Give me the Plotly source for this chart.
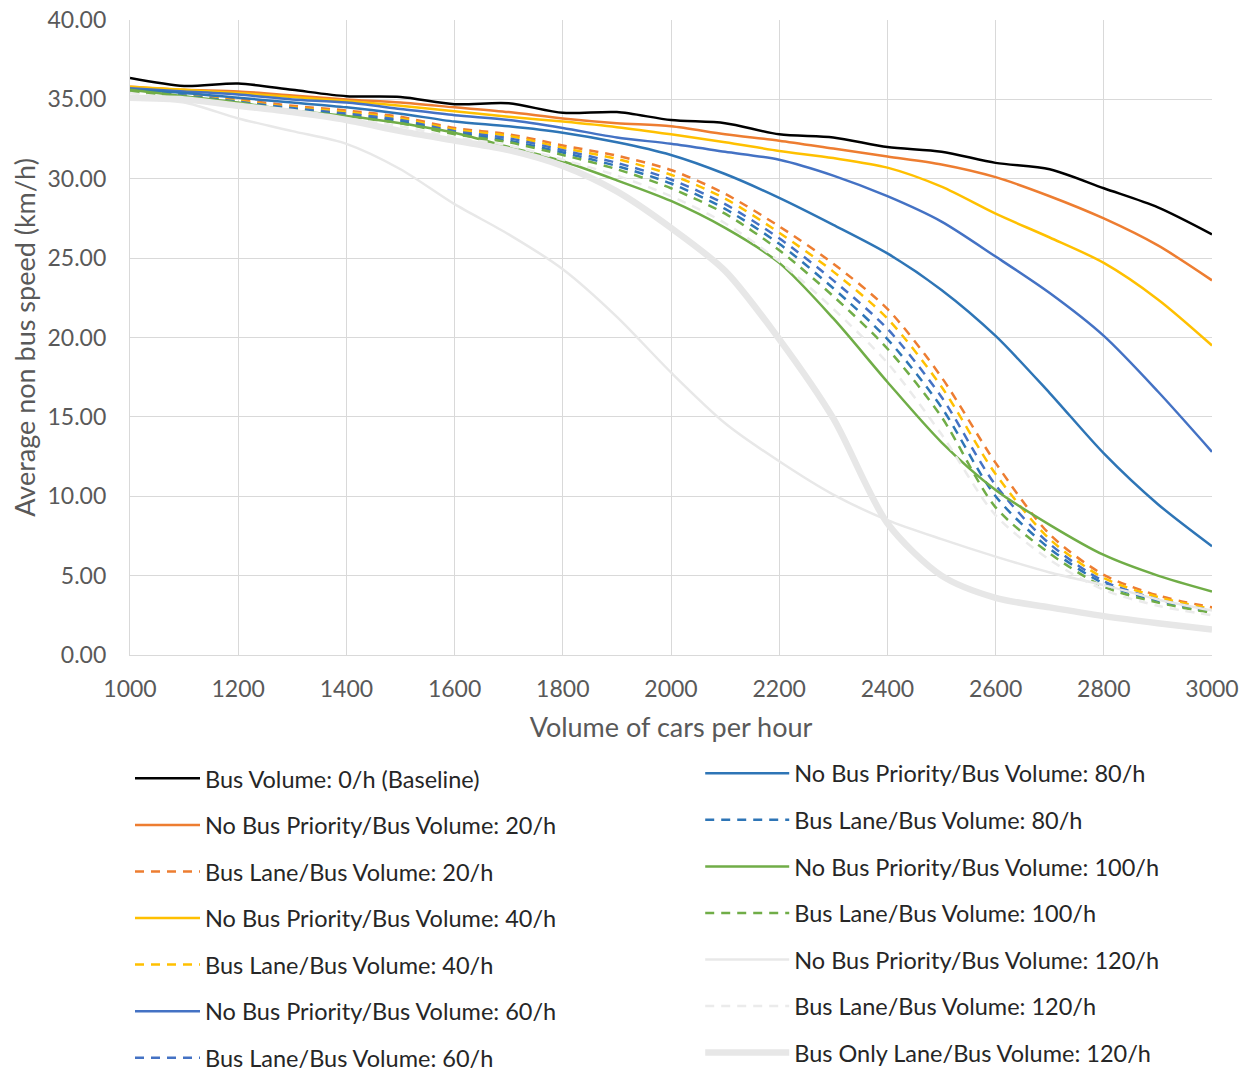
import plotly.graph_objects as go

x_volume = [1000, 1100, 1200, 1300, 1400, 1500, 1600, 1700, 1800, 1900, 2000,
            2100, 2200, 2300, 2400, 2500, 2600, 2700, 2800, 2900, 3000]

baseline_0 = [36.35, 35.85, 36.0, 35.6, 35.2, 35.15, 34.7, 34.75, 34.15, 34.2, 33.7,
              33.5, 32.8, 32.6, 32.0, 31.7, 31.0, 30.6, 29.4, 28.2, 26.5]
nbp_20 = [35.8, 35.6, 35.5, 35.25, 35.0, 34.8, 34.5, 34.2, 33.8, 33.5, 33.3,
          32.8, 32.4, 31.9, 31.4, 30.9, 30.1, 28.9, 27.5, 25.8, 23.6]
bl_20 = [35.7, 35.4, 35.0, 34.6, 34.3, 33.9, 33.2, 32.8, 32.1, 31.45, 30.55,
         29.05, 27.0, 24.65, 21.8, 17.5, 12.1, 7.6, 5.05, 3.75, 3.0]
nbp_40 = [35.8, 35.6, 35.4, 35.15, 34.9, 34.6, 34.25, 33.9, 33.6, 33.25, 32.8,
          32.3, 31.75, 31.3, 30.7, 29.5, 27.8, 26.3, 24.7, 22.4, 19.5]
bl_40 = [35.65, 35.3, 34.9, 34.5, 34.2, 33.8, 33.1, 32.7, 31.95, 31.25, 30.25,
         28.75, 26.6, 24.15, 21.2, 16.9, 11.4, 7.3, 4.85, 3.65, 2.9]
nbp_60 = [35.7, 35.5, 35.3, 35.0, 34.8, 34.4, 34.0, 33.7, 33.2, 32.6, 32.2,
          31.7, 31.2, 30.2, 28.9, 27.3, 25.1, 22.8, 20.1, 16.6, 12.8]
bl_60 = [35.6, 35.25, 34.85, 34.45, 34.1, 33.7, 33.0, 32.55, 31.8, 31.0, 29.95,
         28.4, 26.25, 23.6, 20.55, 16.25, 10.7, 7.0, 4.65, 3.5, 2.8]
nbp_80 = [35.6, 35.4, 35.1, 34.8, 34.5, 34.1, 33.6, 33.3, 32.9, 32.3, 31.5,
          30.3, 28.8, 27.1, 25.3, 23.0, 20.1, 16.5, 12.7, 9.5, 6.85]
bl_80 = [35.55, 35.2, 34.8, 34.4, 34.0, 33.6, 32.9, 32.4, 31.65, 30.8, 29.7,
         28.1, 25.9, 23.1, 19.9, 15.6, 10.0, 6.7, 4.5, 3.4, 2.7]
nbp_100 = [35.6, 35.2, 34.8, 34.3, 33.95, 33.5, 32.9, 32.0, 31.1, 29.9, 28.6,
           26.9, 24.7, 21.2, 17.2, 13.4, 10.4, 8.2, 6.3, 5.0, 4.0]
bl_100 = [35.5, 35.1, 34.7, 34.3, 33.9, 33.5, 32.8, 32.3, 31.5, 30.6, 29.4,
          27.8, 25.5, 22.6, 19.3, 15.0, 9.3, 6.4, 4.3, 3.3, 2.65]
nbp_120 = [35.0, 34.8, 33.8, 33.0, 32.2, 30.6, 28.4, 26.5, 24.3, 21.3, 17.8,
           14.6, 12.2, 10.1, 8.5, 7.3, 6.2, 5.2, 4.4, 3.5, 2.8]
bl_120 = [35.4, 35.0, 34.6, 34.2, 33.8, 33.3, 32.6, 32.1, 31.2, 30.2, 28.9,
          27.2, 24.8, 21.8, 18.4, 13.9, 8.8, 6.0, 4.1, 3.1, 2.5]
bol_120 = [35.1, 35.0, 34.6, 34.2, 33.7, 33.0, 32.4, 31.8, 30.8, 29.2, 26.9,
           24.2, 19.9, 14.9, 8.3, 5.0, 3.6, 3.0, 2.45, 2.0, 1.6]

x_ticks = [1000, 1200, 1400, 1600, 1800, 2000, 2200, 2400, 2600, 2800, 3000]

DASH = "9px,7px"
series = [
    ("Bus Volume: 0/h (Baseline)", baseline_0, "#000000", "solid", 2.5, "legend"),
    ("No Bus Priority/Bus Volume: 20/h", nbp_20, "#ED7D31", "solid", 2.5, "legend"),
    ("Bus Lane/Bus Volume: 20/h", bl_20, "#ED7D31", DASH, 2.5, "legend"),
    ("No Bus Priority/Bus Volume: 40/h", nbp_40, "#FFC000", "solid", 2.5, "legend"),
    ("Bus Lane/Bus Volume: 40/h", bl_40, "#FFC000", DASH, 2.5, "legend"),
    ("No Bus Priority/Bus Volume: 60/h", nbp_60, "#4472C4", "solid", 2.5, "legend"),
    ("Bus Lane/Bus Volume: 60/h", bl_60, "#4472C4", DASH, 2.5, "legend"),
    ("No Bus Priority/Bus Volume: 80/h", nbp_80, "#2E75B6", "solid", 2.5, "legend2"),
    ("Bus Lane/Bus Volume: 80/h", bl_80, "#2E75B6", DASH, 2.5, "legend2"),
    ("No Bus Priority/Bus Volume: 100/h", nbp_100, "#70AD47", "solid", 2.5, "legend2"),
    ("Bus Lane/Bus Volume: 100/h", bl_100, "#70AD47", DASH, 2.5, "legend2"),
    ("No Bus Priority/Bus Volume: 120/h", nbp_120, "#E8E8E8", "solid", 2.5, "legend2"),
    ("Bus Lane/Bus Volume: 120/h", bl_120, "#EBEBEB", DASH, 2.5, "legend2"),
    ("Bus Only Lane/Bus Volume: 120/h", bol_120, "#E7E7E7", "solid", 6.5, "legend2"),
]

fig = go.Figure()
for name, vals, color, dash, width, leg in series:
    fig.add_trace(go.Scatter(
        x=x_volume, y=vals, mode="lines", name=name,
        line=dict(color=color, width=width, dash=dash, shape="spline", smoothing=0.8),
        legend=leg, legendgroup=name, hoverinfo="skip",
    ))

FONT = "Lato"
GRID = "#D9D9D9"
TXT = "#595959"

leg_common = dict(
    font=dict(family=FONT, size=23.5, color="#262626"),
    bgcolor="rgba(0,0,0,0)", borderwidth=0,
    tracegroupgap=13, yanchor="top", xanchor="left",
    traceorder="grouped",
)

# the page body adds an 8px offset, so the figure is sized/margined to compensate
fig.update_layout(
    width=1239, height=1064,
    margin=dict(l=122, r=35, t=12, b=417, autoexpand=False),
    paper_bgcolor="white", plot_bgcolor="white",
    font=dict(family=FONT, color=TXT),
    showlegend=True,
    legend=dict(x=0.0, y=-0.160, itemwidth=65, **leg_common),
    legend2=dict(x=0.527, y=-0.152, itemwidth=84, **leg_common),
    xaxis=dict(
        range=[1000, 3000], tickmode="array", automargin=False,
        tickvals=x_ticks, ticklabeloverflow="allow",
        showgrid=True, gridcolor=GRID, gridwidth=1.3,
        showline=True, linecolor=GRID, linewidth=1.3, mirror=False,
        zeroline=False, ticks="", ticklabelstandoff=13,
        tickfont=dict(family=FONT, size=23, color=TXT),
        title=dict(text="Volume of cars per hour", font=dict(family=FONT, size=27, color=TXT), standoff=17),
    ),
    yaxis=dict(
        range=[0, 40], dtick=5, tick0=0, tickformat=".2f", automargin=False,
        ticklabeloverflow="allow",
        showgrid=True, gridcolor=GRID, gridwidth=1.3,
        showline=True, linecolor=GRID, linewidth=1.3,
        zeroline=False, ticks="", ticklabelstandoff=18,
        tickfont=dict(family=FONT, size=23, color=TXT),
        title=dict(text="Average non bus speed (km/h)", font=dict(family=FONT, size=27, color=TXT), standoff=6),
    ),
)

fig.write_html("out.html")
